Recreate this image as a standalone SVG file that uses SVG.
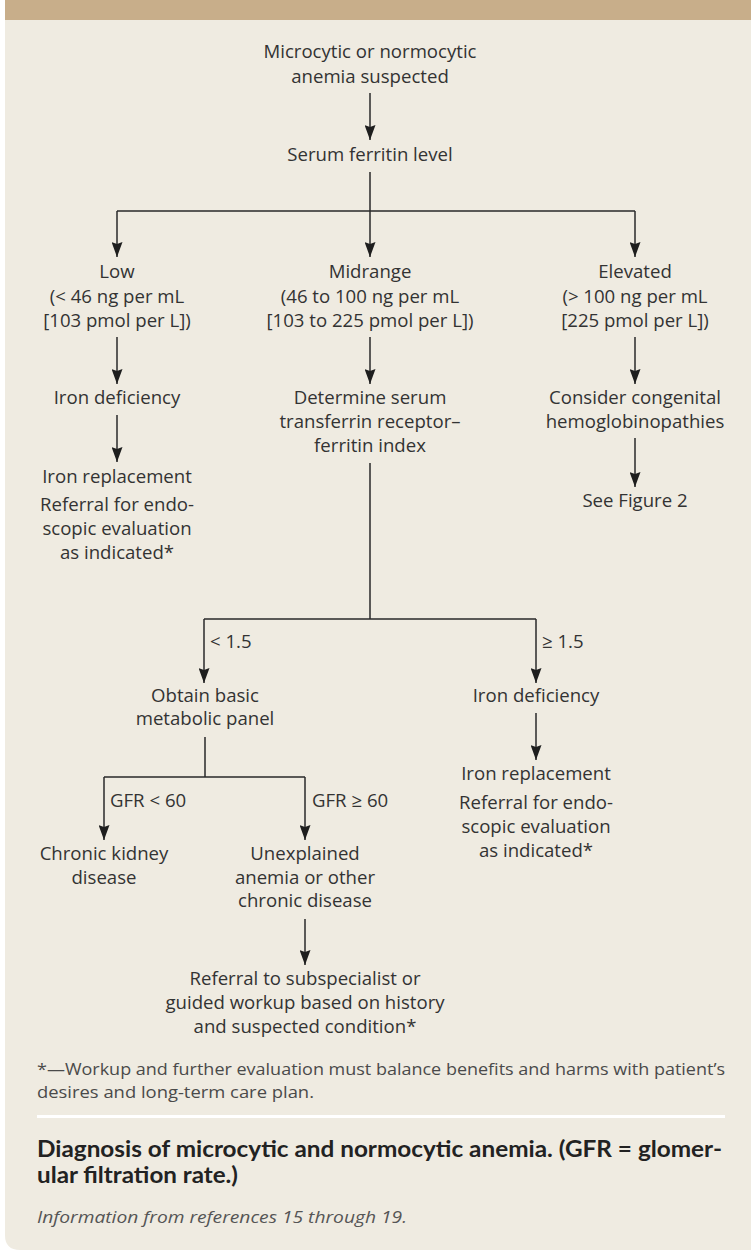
<svg xmlns="http://www.w3.org/2000/svg" width="751" height="1250" viewBox="0 0 751 1250">
<style>
.t{font-family:"Open Sans","Liberation Sans",sans-serif;font-size:18.6px;fill:#333;text-anchor:middle}
.lbl{font-family:"Open Sans","Liberation Sans",sans-serif;font-size:18.6px;fill:#333}
.foot{font-family:"Open Sans","Liberation Sans",sans-serif;font-size:16.5px;fill:#4a4a4a}
.cap{font-family:Lato,"Liberation Sans",sans-serif;font-size:22.5px;font-weight:bold;fill:#222}
.src{font-family:"Open Sans","Liberation Sans",sans-serif;font-size:17px;font-style:italic;fill:#555}
.ln{fill:none;stroke:#2a2a2a;stroke-width:1.5}
.ar{fill:none;stroke:#2a2a2a;stroke-width:1.5;marker-end:url(#ah)}
</style>
<defs>
<marker id="ah" markerUnits="userSpaceOnUse" markerWidth="16" markerHeight="11" refX="15" refY="5.5" orient="auto">
<path d="M0,0 L15,5.5 L0,11 L2,5.5 z" fill="#1e1e1e"/>
</marker>
</defs>
<path d="M5,0 H751 V1250 H20 Q5,1250 5,1235 Z" fill="#efebe1"/>
<rect x="5" y="0" width="746" height="20" fill="#c8ae8a"/>

<g id="connectors">
<line class="ar" x1="370" y1="93" x2="370" y2="140"/>
<path class="ln" d="M370,172 V211 M117,211 H635"/>
<line class="ar" x1="117" y1="211" x2="117" y2="257"/>
<line class="ar" x1="370" y1="211" x2="370" y2="257"/>
<line class="ar" x1="635" y1="211" x2="635" y2="257"/>
<line class="ar" x1="117" y1="337" x2="117" y2="384"/>
<line class="ar" x1="370" y1="337" x2="370" y2="384"/>
<line class="ar" x1="635" y1="337" x2="635" y2="384"/>
<line class="ar" x1="117" y1="415" x2="117" y2="462"/>
<line class="ar" x1="635" y1="438" x2="635" y2="487"/>
<path class="ln" d="M370,463 V619 M204,619 H536"/>
<line class="ar" x1="204" y1="619" x2="204" y2="683"/>
<line class="ar" x1="536" y1="619" x2="536" y2="683"/>
<line class="ar" x1="536" y1="713" x2="536" y2="760"/>
<path class="ln" d="M205,737 V777 M104,777 H305"/>
<line class="ar" x1="104" y1="777" x2="104" y2="840"/>
<line class="ar" x1="305" y1="777" x2="305" y2="840"/>
<line class="ar" x1="305" y1="919" x2="305" y2="965"/>
<text class="lbl" x="210" y="648">&lt; 1.5</text>
<text class="lbl" x="542" y="648">≥ 1.5</text>
<text class="lbl" x="110" y="807">GFR &lt; 60</text>
<text class="lbl" x="312" y="807">GFR ≥ 60</text>
</g>

<g id="n-start"><text class="t" x="370" y="58">Microcytic or normocytic</text><text class="t" x="370" y="83">anemia suspected</text></g>
<g id="n-ferritin"><text class="t" x="370" y="161">Serum ferritin level</text></g>
<g id="n-low"><text class="t" x="117" y="278">Low</text><text class="t" x="117" y="303">(&lt; 46 ng per mL</text><text class="t" x="117" y="327">[103 pmol per L])</text></g>
<g id="n-mid"><text class="t" x="370" y="278">Midrange</text><text class="t" x="370" y="303">(46 to 100 ng per mL</text><text class="t" x="370" y="327">[103 to 225 pmol per L])</text></g>
<g id="n-high"><text class="t" x="635" y="278">Elevated</text><text class="t" x="635" y="303">(&gt; 100 ng per mL</text><text class="t" x="635" y="327">[225 pmol per L])</text></g>
<g id="n-irondef1"><text class="t" x="117" y="404">Iron deficiency</text></g>
<g id="n-index"><text class="t" x="370" y="404">Determine serum</text><text class="t" x="370" y="428">transferrin receptor–</text><text class="t" x="370" y="452">ferritin index</text></g>
<g id="n-congenital"><text class="t" x="635" y="404">Consider congenital</text><text class="t" x="635" y="428">hemoglobinopathies</text></g>
<g id="n-replace1"><text class="t" x="117" y="483">Iron replacement</text><text class="t" x="117" y="511">Referral for endo-</text><text class="t" x="117" y="535">scopic evaluation</text><text class="t" x="117" y="559">as indicated*</text></g>
<g id="n-fig2"><text class="t" x="635" y="507">See Figure 2</text></g>
<g id="n-bmp"><text class="t" x="205" y="702">Obtain basic</text><text class="t" x="205" y="725">metabolic panel</text></g>
<g id="n-irondef2"><text class="t" x="536" y="702">Iron deficiency</text></g>
<g id="n-replace2"><text class="t" x="536" y="780">Iron replacement</text><text class="t" x="536" y="809">Referral for endo-</text><text class="t" x="536" y="833">scopic evaluation</text><text class="t" x="536" y="857">as indicated*</text></g>
<g id="n-ckd"><text class="t" x="104" y="860">Chronic kidney</text><text class="t" x="104" y="884">disease</text></g>
<g id="n-unexplained"><text class="t" x="305" y="860">Unexplained</text><text class="t" x="305" y="884">anemia or other</text><text class="t" x="305" y="907">chronic disease</text></g>
<g id="n-referral"><text class="t" x="305" y="985">Referral to subspecialist or</text><text class="t" x="305" y="1009">guided workup based on history</text><text class="t" x="305" y="1033">and suspected condition*</text></g>

<g id="footer">
<text class="foot" x="37" y="1075" textLength="688" lengthAdjust="spacingAndGlyphs">*—Workup and further evaluation must balance benefits and harms with patient’s</text>
<text class="foot" x="37" y="1098" textLength="277" lengthAdjust="spacingAndGlyphs">desires and long-term care plan.</text>
<rect x="37" y="1115" width="688" height="3" fill="#ffffff"/>
<text class="cap" x="37" y="1157" textLength="685" lengthAdjust="spacingAndGlyphs">Diagnosis of microcytic and normocytic anemia. (GFR = glomer-</text>
<text class="cap" x="37" y="1183" textLength="201" lengthAdjust="spacingAndGlyphs">ular filtration rate.)</text>
<text class="src" x="37" y="1223" textLength="370" lengthAdjust="spacingAndGlyphs">Information from references 15 through 19.</text>
</g>
</svg>
